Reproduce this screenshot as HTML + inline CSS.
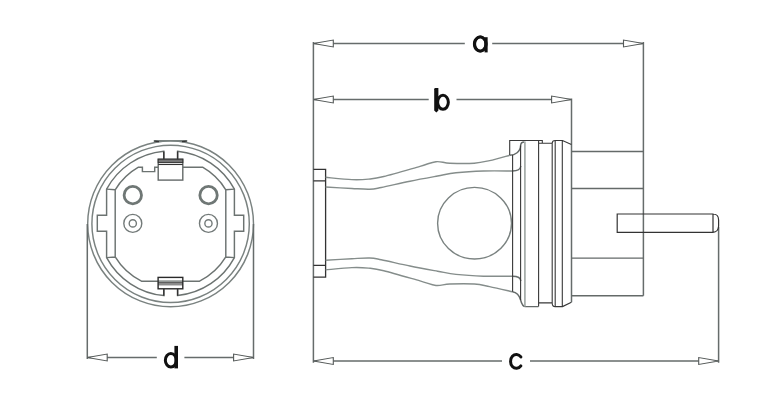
<!DOCTYPE html>
<html><head><meta charset="utf-8"><style>
html,body{margin:0;padding:0;background:#fff;}
body{width:784px;height:407px;overflow:hidden;font-family:"Liberation Sans",sans-serif;}
svg{display:block;}
</style></head><body>
<svg width="784" height="407" viewBox="0 0 784 407">
<rect width="784" height="407" fill="#fff"/>
<circle cx="170.6" cy="223.85" r="82.9" fill="none" stroke="#7a8280" stroke-width="1.45"/>
<circle cx="170.6" cy="223.85" r="78.7" fill="none" stroke="#7a8280" stroke-width="1.45"/>
<path d="M154.4,142.4 L154.4,140.6 L186.6,140.6 L186.6,142.4" fill="none" stroke="#7a8280" stroke-width="1.3"/>
<path d="M154.4,141.2 L159,141.6 M182,141.6 L186.6,141.2" fill="none" stroke="#333" stroke-width="1.3"/>
<path d="M163.8,159 L163.8,151.21 A72.5,72.5 0 0 0 106.6,189.15 L106.6,215.2 L97.3,215.2 L97.3,231.3 L106.6,231.3 L106.6,257.65 A72.5,72.5 0 0 0 163.8,295.59 L163.8,289.3 M177.6,289.3 L177.6,295.55 A72.5,72.5 0 0 0 234.4,257.65 L234.4,231.3 L243.7,231.3 L243.7,215.2 L234.4,215.2 L234.4,189.15 A72.5,72.5 0 0 0 177.6,151.25 L177.6,159" fill="none" stroke="#6c7371" stroke-width="1.45"/>
<path d="M158.2,167.2 L154.7,167.2 L154.7,171.6 L142.4,171.6 L142.4,167.2 L138.44,167.2 A64.7,64.7 0 0 0 115.2,189.81 L115.2,256.99 A64.7,64.7 0 0 0 141.43,281.2 L157.9,281.2 M183.1,281.2 L199.57,281.2 A64.7,64.7 0 0 0 225.8,256.99 L225.8,189.81 A64.7,64.7 0 0 0 202.56,167.2 L182.8,167.2 M106.6,189.15 L115.2,189.81 M106.6,257.65 L115.2,256.99 M234.4,189.15 L225.8,189.81 M234.4,257.65 L225.8,256.99" fill="none" stroke="#6c7371" stroke-width="1.45"/>
<rect x="158.2" y="159.2" width="24.6" height="20.9" fill="#fff" stroke="#646a69" stroke-width="1.4"/>
<rect x="158.2" y="159.2" width="24.6" height="3.4" fill="#777" stroke="#333" stroke-width="1"/>
<line x1="158.2" y1="164.5" x2="182.8" y2="164.5" stroke="#333" stroke-width="1.1"/>
<line x1="158.1" y1="281.1" x2="182.8" y2="281.1" stroke="#6c7371" stroke-width="1.3"/>
<line x1="158.1" y1="282.9" x2="182.8" y2="282.9" stroke="#2a2a2a" stroke-width="1.3"/>
<line x1="158.1" y1="284.8" x2="182.8" y2="284.8" stroke="#666" stroke-width="1.1"/>
<rect x="158.1" y="277.4" width="24.7" height="11.4" fill="none" stroke="#2a2a2a" stroke-width="1.4"/>
<path d="M163.8,288.8 L163.8,295.8 M177.6,288.8 L177.6,295.8 M163.8,159.2 L163.8,151.5 M177.6,159.2 L177.6,151.5" stroke="#333" stroke-width="1.4" fill="none"/>
<circle cx="132.8" cy="195.15" r="8.7" fill="none" stroke="#6f7775" stroke-width="2.8"/>
<circle cx="208.55" cy="195.15" r="8.7" fill="none" stroke="#6f7775" stroke-width="2.8"/>
<circle cx="132.8" cy="223.4" r="9.0" fill="none" stroke="#737a79" stroke-width="1.4"/>
<circle cx="132.8" cy="223.4" r="3.6" fill="none" stroke="#737a79" stroke-width="1.4"/>
<circle cx="208.45" cy="223.4" r="9.0" fill="none" stroke="#737a79" stroke-width="1.4"/>
<circle cx="208.45" cy="223.4" r="3.6" fill="none" stroke="#737a79" stroke-width="1.4"/>
<path d="M87.3,224 L87.3,359 M253.5,224 L253.5,359 M87.3,357.5 L156.8,357.5 M184.4,357.5 L253.5,357.5" fill="none" stroke="#666c6b" stroke-width="1.5"/>
<path d="M87.3,357.5 L107.19999999999999,354.05 L107.19999999999999,360.95 Z" fill="#fff" stroke="#555a59" stroke-width="1.1" stroke-linejoin="miter"/>
<path d="M253.5,357.5 L233.6,354.05 L233.6,360.95 Z" fill="#fff" stroke="#555a59" stroke-width="1.1" stroke-linejoin="miter"/>
<path d="M313.4,42 L313.4,362.8 M313.4,43.5 L464.8,43.5 M492.2,43.5 L643.4,43.5 M643.4,42 L643.4,295.7" fill="none" stroke="#666c6b" stroke-width="1.5"/>
<path d="M313.4,43.5 L333.29999999999995,40.05 L333.29999999999995,46.95 Z" fill="#fff" stroke="#555a59" stroke-width="1.1" stroke-linejoin="miter"/>
<path d="M643.4,43.5 L623.5,40.05 L623.5,46.95 Z" fill="#fff" stroke="#555a59" stroke-width="1.1" stroke-linejoin="miter"/>
<path d="M313.4,99.5 L428.7,99.5 M456.5,99.5 L571.5,99.5 M571.5,98.5 L571.5,302.2" fill="none" stroke="#666c6b" stroke-width="1.5"/>
<path d="M313.4,99.5 L333.29999999999995,96.05 L333.29999999999995,102.95 Z" fill="#fff" stroke="#555a59" stroke-width="1.1" stroke-linejoin="miter"/>
<path d="M571.5,99.5 L551.6,96.05 L551.6,102.95 Z" fill="#fff" stroke="#555a59" stroke-width="1.1" stroke-linejoin="miter"/>
<path d="M313.4,361 L502,361 M530,361 L718.6,361 M718.6,227 L718.6,362.8" fill="none" stroke="#666c6b" stroke-width="1.5"/>
<path d="M313.4,361 L333.29999999999995,357.55 L333.29999999999995,364.45 Z" fill="#fff" stroke="#555a59" stroke-width="1.1" stroke-linejoin="miter"/>
<path d="M718.6,361 L698.7,357.55 L698.7,364.45 Z" fill="#fff" stroke="#555a59" stroke-width="1.1" stroke-linejoin="miter"/>
<path d="M313.4,169.3 L325.6,169.3 L325.6,277.1 L313.4,277.1 M313.4,180.9 L325.6,180.9 M313.4,265.4 L325.6,265.4" fill="none" stroke="#333" stroke-width="1.3"/>
<path d="M325.60,177.30 C329.98,177.68 344.75,179.30 351.90,179.60 C359.05,179.90 363.18,179.62 368.50,179.10 C373.82,178.58 375.22,178.63 383.80,176.50 C392.38,174.37 411.30,168.77 420.00,166.30 C428.70,163.83 431.03,162.22 436.00,161.70 C440.97,161.18 443.42,162.95 449.80,163.20 C456.18,163.45 467.67,163.63 474.30,163.20 C480.93,162.77 483.68,161.93 489.60,160.60 C495.52,159.27 506.43,156.10 509.80,155.20" fill="none" stroke="#858d8b" stroke-width="1.4"/>
<path d="M325.60,187.00 C329.98,187.25 344.55,188.13 351.90,188.50 C359.25,188.87 364.82,189.37 369.70,189.20 C374.58,189.03 374.48,188.83 381.20,187.50 C387.92,186.17 400.60,183.12 410.00,181.20 C419.40,179.28 429.93,177.40 437.60,176.00 C445.27,174.60 448.35,173.63 456.00,172.80 C463.65,171.97 474.10,171.30 483.50,171.00 C492.90,170.70 507.58,171.00 512.40,171.00" fill="none" stroke="#858d8b" stroke-width="1.4"/>
<path d="M325.60,269.90 C329.98,269.52 344.75,267.90 351.90,267.60 C359.05,267.30 363.18,267.58 368.50,268.10 C373.82,268.62 375.22,268.57 383.80,270.70 C392.38,272.83 411.30,278.43 420.00,280.90 C428.70,283.37 431.03,284.98 436.00,285.50 C440.97,286.02 443.42,284.25 449.80,284.00 C456.18,283.75 467.67,283.57 474.30,284.00 C480.93,284.43 483.25,285.30 489.60,286.60 C495.95,287.90 508.60,290.93 512.40,291.80" fill="none" stroke="#858d8b" stroke-width="1.4"/>
<path d="M325.60,260.20 C329.98,259.95 344.55,259.07 351.90,258.70 C359.25,258.33 364.82,257.83 369.70,258.00 C374.58,258.17 374.48,258.37 381.20,259.70 C387.92,261.03 400.60,264.08 410.00,266.00 C419.40,267.92 429.93,269.80 437.60,271.20 C445.27,272.60 448.35,273.57 456.00,274.40 C463.65,275.23 474.10,275.90 483.50,276.20 C492.90,276.50 507.58,276.20 512.40,276.20" fill="none" stroke="#858d8b" stroke-width="1.4"/>
<path d="M509.8,155.2 C515,155 520.4,152 520.6,145.5 C520.7,142.8 522,141.9 524.3,141.9" fill="none" stroke="#646a69" stroke-width="1.45"/>
<path d="M512.4,171 C517,171 520.5,169.5 520.8,166" fill="none" stroke="#646a69" stroke-width="1.45"/>
<path d="M512.4,276.3 C517,276.3 520.6,277.8 520.8,281" fill="none" stroke="#646a69" stroke-width="1.45"/>
<path d="M512.4,291.8 C517,292.5 519.5,296 520.6,300 C521.6,304 522.5,306.5 525.5,306.6 L538.5,306.6" fill="none" stroke="#646a69" stroke-width="1.45"/>
<ellipse cx="474.55" cy="223.2" rx="36.95" ry="35.8" fill="none" stroke="#7a8280" stroke-width="1.4"/>
<path d="M509.7,155 L509.7,140.5 L542.3,140.5 L542.3,143.3 L538.6,143.3 M512.6,155 L512.6,291.8 M520.6,145.5 L520.6,300 M538.6,140.5 L538.6,306.6 M538.6,143.3 L552.2,143.3 L552.2,302.9 L538.6,302.9 M552.2,143.3 C552.2,141 553.5,140.5 555.2,140.5 L562.5,140.5 L571.4,144.4 M555.2,140.5 L555.2,306.6 M562.3,140.5 L562.3,306.6 M552.2,302.9 C552.2,305.5 553.5,306.6 555.2,306.6 L562.5,306.6 L571.4,302.2" fill="none" stroke="#383838" stroke-width="1.1"/>
<line x1="524.9" y1="141.4" x2="524.9" y2="306.6" stroke="#a3aaa7" stroke-width="1.7"/>
<path d="M571.5,151.5 L643.4,151.5 M571.5,188.5 L643.4,188.5 M571.5,258.1 L643.4,258.1 M571.5,295.8 L643.4,295.8" fill="none" stroke="#646a69" stroke-width="1.45"/>
<path d="M713,214 L617.2,214 L617.2,232.3 L713,232.3 Z M713,214 C716.5,214 718.6,216.5 718.6,220 L718.6,226 C718.6,229.5 716.5,232.3 713,232.3" fill="none" stroke="#333" stroke-width="1.2"/>
<path d="M486.1,37.2 L486.1,52.4" stroke="#111" stroke-width="3.1" fill="none"/>
<path d="M486.1,44 A5.9,7.1 0 1 0 486.1,44.01" stroke="#111" stroke-width="2.8" fill="none"/>
<ellipse cx="480.3" cy="44" rx="5.6" ry="7.05" stroke="#111" stroke-width="2.8" fill="none"/>
<path d="M434.2,89.2 Q434.2,88 435.4,88 L438.4,88 L438.4,110.6 L436.4,112.4 L434.2,110.6 Z" fill="#111"/>
<ellipse cx="443.0" cy="102.3" rx="5.35" ry="6.95" stroke="#111" stroke-width="3" fill="none"/>
<path d="M520.88,356.93 A5.85,6.95 0 1 0 520.88,365.87" stroke="#111" stroke-width="3" fill="none" stroke-linecap="round"/>
<path d="M176.2,345.9 L176.2,368.4" stroke="#111" stroke-width="3.6" fill="none"/>
<ellipse cx="170.9" cy="360.3" rx="5.55" ry="6.7" stroke="#111" stroke-width="3" fill="none"/>
</svg>
</body></html>
